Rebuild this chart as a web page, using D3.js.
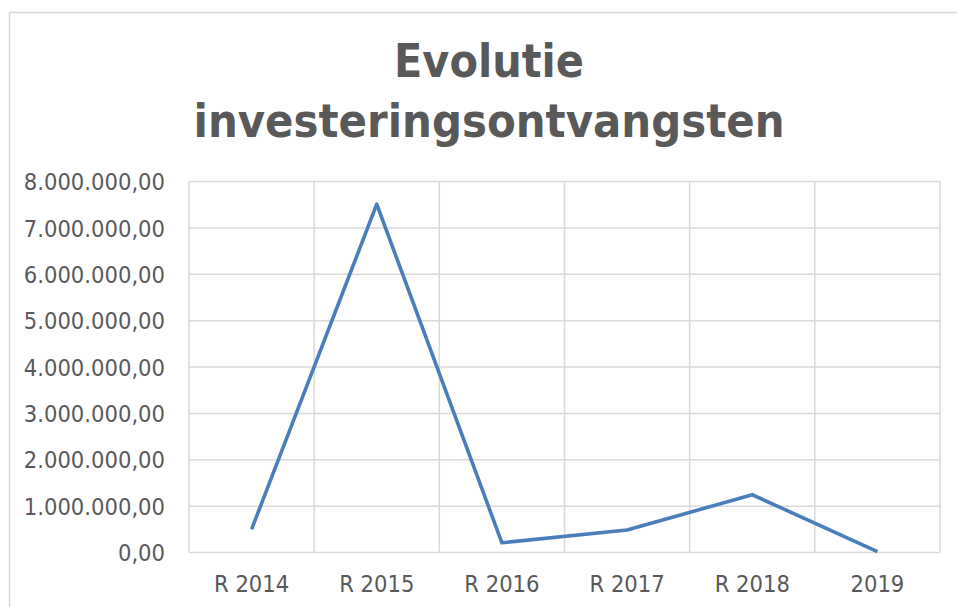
<!DOCTYPE html>
<html>
<head>
<meta charset="utf-8">
<script src="https://cdn.jsdelivr.net/npm/d3@7"></script>
<style>
  body { margin: 0; background: #fff; }
  text { font-family: "DejaVu Sans Condensed", "DejaVu Sans", sans-serif; fill: #595959; }
</style>
</head>
<body>
<div id="chart"></div>
<script>
// Data
const categories = ["R 2014", "R 2015", "R 2016", "R 2017", "R 2018", "2019"];
const values = [500000, 7510000, 210000, 485000, 1245000, 20000];
const yTicks = [0, 1000000, 2000000, 3000000, 4000000, 5000000, 6000000, 7000000, 8000000];
const titleLines = ["Evolutie", "investeringsontvangsten"];

const totalWidth = 957, totalHeight = 607;
const margin = {top: 181.5, right: 17, bottom: 54.5, left: 189},
    width = totalWidth - margin.left - margin.right,
    height = totalHeight - margin.top - margin.bottom;

const root = d3.select("#chart")
  .append("svg")
    .attr("width", totalWidth)
    .attr("height", totalHeight);

// chart frame (right and bottom edges are cut off)
root.append("path")
    .attr("d", "M9.5," + totalHeight + "V12.5H" + totalWidth)
    .attr("fill", "none")
    .attr("stroke", "#d9d9d9")
    .attr("stroke-width", 1.5);

// Title
const titleCx = 489;
const title = root.append("g");
titleLines.forEach((t, i) => {
  title.append("text")
    .attr("x", titleCx)
    .attr("y", 77 + i * 60)
    .attr("text-anchor", "middle")
    .style("font-family", "'DejaVu Sans', sans-serif")
    .style("font-weight", "bold")
    .style("font-size", "46px")
    .text(t);
});
// squeeze title widths to the reference
const targetW = [190, 591];
title.selectAll("text").each(function(d, i) {
  const w = this.getComputedTextLength();
  if (Math.abs(w - targetW[i]) > 2) {
    d3.select(this).attr("textLength", targetW[i]).attr("lengthAdjust", "spacingAndGlyphs");
  }
});

const svg = root.append("g")
    .attr("transform", "translate(" + margin.left + "," + margin.top + ")");

const x = d3.scaleBand()
  .domain(categories)
  .range([0, width]);

const y = d3.scaleLinear()
  .domain([0, 8000000])
  .range([height, 0]);

const fmt = v => {
  const s = d3.format(",.2f")(v);
  return s.replace(/,/g, "#").replace(".", ",").replace(/#/g, ".");
};

// horizontal gridlines
svg.append("g")
  .selectAll("line")
  .data(yTicks)
  .join("line")
    .attr("x1", 0)
    .attr("x2", width)
    .attr("y1", d => y(d))
    .attr("y2", d => y(d))
    .attr("stroke", "#d9d9d9")
    .attr("stroke-width", 1.5);

// vertical gridlines at category boundaries
const bounds = categories.map(c => x(c)).concat([width]);
svg.append("g")
  .selectAll("line")
  .data(bounds)
  .join("line")
    .attr("x1", d => d)
    .attr("x2", d => d)
    .attr("y1", 0)
    .attr("y2", height)
    .attr("stroke", "#d9d9d9")
    .attr("stroke-width", 1.5);

// Y axis labels
const yAxis = svg.append("g")
  .call(d3.axisLeft(y).tickValues(yTicks).tickFormat(fmt).tickSize(0).tickPadding(24));
yAxis.select(".domain").remove();
yAxis.selectAll("text")
  .style("font-size", "23.5px")
  .attr("fill", "#595959")
  .attr("dy", "0.35em");

// X axis labels
const xAxis = svg.append("g")
  .attr("transform", "translate(0," + height + ")")
  .call(d3.axisBottom(x).tickSize(0).tickPadding(23));
xAxis.select(".domain").remove();
xAxis.selectAll("text")
  .style("font-size", "23.5px")
  .attr("fill", "#595959");

// Line
const line = d3.line()
  .x((d, i) => x(categories[i]) + x.bandwidth() / 2)
  .y(d => y(d));

svg.append("path")
  .datum(values)
  .attr("fill", "none")
  .attr("stroke", "#4a7ebb")
  .attr("stroke-width", 3.6)
  .attr("stroke-linejoin", "round")
  .attr("d", line);
</script>
</body>
</html>
